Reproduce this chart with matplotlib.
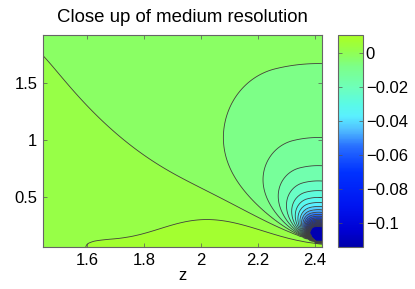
import numpy as np
import matplotlib
matplotlib.use('Agg')
import matplotlib.pyplot as plt
from matplotlib.colors import LinearSegmentedColormap, Normalize
from matplotlib import cm, ticker

plt.rcParams['font.family'] = ['Liberation Sans', 'DejaVu Sans']

# axes ranges and ticks
z_lim = [1.444, 2.4245]
r_lim = [0.061, 1.921]
x_ticks = [1.6, 1.8, 2, 2.2, 2.4]
y_ticks = [0.5, 1, 1.5]
c_ticks = [0, -0.02, -0.04, -0.06, -0.08, -0.1]
c_lim = [-0.114, 0.0106]
levels = np.round(np.arange(-0.115, 0.0101, 0.005), 4)

# colour stops of the colour bar (value, colour)
c_vals = [-0.114, -0.105, -0.09, -0.07, -0.055, -0.045, -0.037, -0.03,
          -0.02, -0.0075, -0.0025, 0.0025, 0.0075, 0.0106]
c_cols = ['#0000aa', '#0000d2', '#0014f0', '#0032ff', '#286eff', '#50beff',
          '#5af0ff', '#5afae6', '#6effb9', '#7dff87', '#89ff66', '#96ff48',
          '#a3ff30', '#aaff28']

# estimated field: tip singularity + near-axis layer (pixel-like units)
tip = [2.411, 0.105]
tip_strength = 4.24
tip_power = 1.3
tip_angles = [16.0, 76.0]
layer_base = 0.0045
layer_rise = 0.00053
layer_bump = 0.0022
layer_bump_pos = 185.0
layer_bump_width = 50.0
layer_height = 157.0
layer_decay = 140.0

sx = 279.0 / (z_lim[1] - z_lim[0])
sy = 212.0 / (r_lim[1] - r_lim[0])

z = np.linspace(z_lim[0], z_lim[1], 140)
r = np.linspace(r_lim[0], r_lim[1], 110)
Z, R = np.meshgrid(z, r)
X = (Z - z_lim[0]) * sx
Y = (R - r_lim[0]) * sy
ox = (tip[0] - z_lim[0]) * sx
oy = (tip[1] - r_lim[0]) * sy

dx = ox - X
dy = Y - oy
rho = np.hypot(dx, dy) + 0.5
phi = np.degrees(np.arctan2(dy, dx))
arg = np.clip((phi - tip_angles[0]) / (tip_angles[1] - tip_angles[0]), 0, 1) * 90
tip_part = -tip_strength * np.sin(np.radians(arg)) / rho ** tip_power

G = (layer_base + layer_rise * (1 - np.exp(-X / 15.0))
     + layer_bump * np.exp(-((X - layer_bump_pos) / layer_bump_width) ** 2))
h = layer_height * np.exp(-X / layer_decay)
layer_part = G * np.exp(-(Y / h) ** 2)

F = np.clip(layer_part + tip_part, levels[0] + 1e-5, levels[-1] - 1e-5)

pos = [(v - c_lim[0]) / (c_lim[1] - c_lim[0]) for v in c_vals]
cmap = LinearSegmentedColormap.from_list('bar', list(zip(pos, c_cols)))
norm = Normalize(vmin=c_lim[0], vmax=c_lim[1])

fig = plt.figure(figsize=(4.15, 2.89), dpi=100)
ax = fig.add_axes([43 / 415, 1 - 247 / 289, 279 / 415, 212 / 289])
ax.contourf(Z, R, F, levels=levels, cmap=cmap, norm=norm)
ax.contour(Z, R, F, levels=levels, colors='#404040', linewidths=0.6,
           linestyles='solid')
ax.set_xlim(z_lim)
ax.set_ylim(r_lim)
ax.set_xticks(x_ticks)
ax.set_yticks(y_ticks)
fmt = ticker.FuncFormatter(lambda v, p: ('%g' % v).replace('-', '\u2212'))
ax.xaxis.set_major_formatter(fmt)
ax.yaxis.set_major_formatter(fmt)
ax.tick_params(direction='in', length=3, width=0.5, color='#555555',
               labelsize=12, top=True, right=True, pad=4)
for sp in ax.spines.values():
    sp.set_color('#666666')
    sp.set_linewidth(0.8)
ax.set_xlabel('z', fontsize=12, labelpad=0)
ax.set_title('Close up of medium resolution', fontsize=13.4, pad=9)

cax = fig.add_axes([338 / 415, 1 - 247 / 289, 25 / 415, 212 / 289])
cb = fig.colorbar(cm.ScalarMappable(norm=norm, cmap=cmap), cax=cax)
cb.set_ticks(c_ticks)
cb.ax.yaxis.set_major_formatter(fmt)
cb.ax.tick_params(direction='in', length=3, width=0.5, color='#555555',
                  labelsize=12, left=True, right=True, pad=2)
cb.outline.set_edgecolor('#666666')
cb.outline.set_linewidth(0.8)

fig.savefig('out.png', dpi=100)
